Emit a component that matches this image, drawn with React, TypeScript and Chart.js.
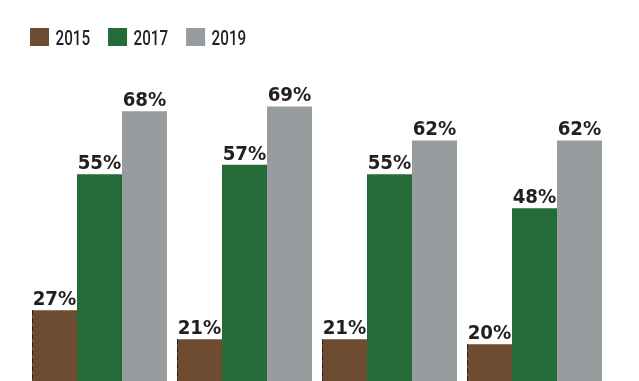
import React, { useEffect, useRef } from "react";
import { Chart, registerables } from "chart.js";

Chart.register(...registerables);

const categories = ["A", "B", "C", "D"];
const seriesNames = ["2015", "2017", "2019"];
const values2015 = [27, 21, 21, 20];
const values2017 = [55, 57, 55, 48];
const values2019 = [68, 69, 62, 62];
const colors = ["#6e4c32", "#246b38", "#979c9f"];
const textColor = "#231f20";

const labelPlugin = {
  id: "barLabels",
  afterDatasetsDraw(chart: any) {
    const ctx = chart.ctx;
    ctx.save();
    // dashed left edge on the 2015 bars
    const meta0 = chart.getDatasetMeta(0);
    ctx.strokeStyle = textColor;
    ctx.lineWidth = 1;
    ctx.setLineDash([5, 3]);
    meta0.data.forEach((bar: any) => {
      const p = bar.getProps(["x", "y", "width"], true);
      const x = Math.round(p.x - p.width / 2) + 0.5;
      ctx.beginPath();
      ctx.moveTo(x, p.y);
      ctx.lineTo(x, chart.chartArea.bottom);
      ctx.stroke();
    });
    ctx.setLineDash([]);
    ctx.fillStyle = textColor;
    ctx.font = "bold 19px 'DejaVu Sans', sans-serif";
    ctx.textAlign = "center";
    ctx.textBaseline = "alphabetic";
    chart.data.datasets.forEach((ds: any, di: number) => {
      const meta = chart.getDatasetMeta(di);
      meta.data.forEach((bar: any, i: number) => {
        const p = bar.getProps(["x", "y"], true);
        ctx.save();
        ctx.translate(p.x, p.y - 5);
        ctx.scale(0.96, 1);
        ctx.fillText(ds.data[i] + "%", 0, 0);
        ctx.restore();
      });
    });
    ctx.restore();
  },
};

// legend drawn with a horizontally condensed font
const legendPlugin = {
  id: "condensedLegend",
  afterDraw(chart: any) {
    const ctx = chart.ctx;
    const squeeze = 0.76;
    ctx.save();
    ctx.font = "500 20px Roboto, 'Liberation Sans', sans-serif";
    ctx.textBaseline = "alphabetic";
    ctx.textAlign = "left";
    let x = 30;
    chart.data.datasets.forEach((ds: any) => {
      ctx.fillStyle = ds.backgroundColor;
      ctx.fillRect(x, 28, 19, 18);
      const w = ctx.measureText(ds.label).width * squeeze;
      ctx.save();
      ctx.translate(x + 25.5, 45.3);
      ctx.scale(squeeze, 1);
      ctx.fillStyle = textColor;
      ctx.fillText(ds.label, 0, 0);
      ctx.restore();
      x += 25.5 + w + 18;
    });
    ctx.restore();
  },
};

export default function App() {
  const ref = useRef<HTMLCanvasElement>(null);
  useEffect(() => {
    const chart = new Chart(ref.current!, {
      type: "bar",
      data: {
        labels: categories,
        datasets: [values2015, values2017, values2019].map((d, i) => ({
          label: seriesNames[i],
          data: d,
          backgroundColor: colors[i],
          borderWidth: 0,
          barPercentage: 1,
          categoryPercentage: 0.931,
        })),
      },
      options: {
        animation: false,
        responsive: false,
        layout: { padding: { left: 16, right: 32, top: 56, bottom: 0 } },
        plugins: {
          legend: { display: false },
          tooltip: { enabled: false },
        },
        scales: {
          x: {
            display: false,
            grid: { display: false },
          },
          y: {
            display: true,
            min: 12.4,
            max: 79.4,
            ticks: { display: false },
            grid: { display: false, drawTicks: false },
            border: { display: false },
            afterFit: (s: any) => {
              s.width = 11;
            },
          },
        },
      },
      plugins: [labelPlugin, legendPlugin],
    });
    return () => chart.destroy();
  }, []);
  return (
    <div style={{ position: "fixed", left: 0, top: 0, width: 639, height: 381, background: "#fff" }}>
      <canvas ref={ref} width={639} height={381} />
    </div>
  );
}
